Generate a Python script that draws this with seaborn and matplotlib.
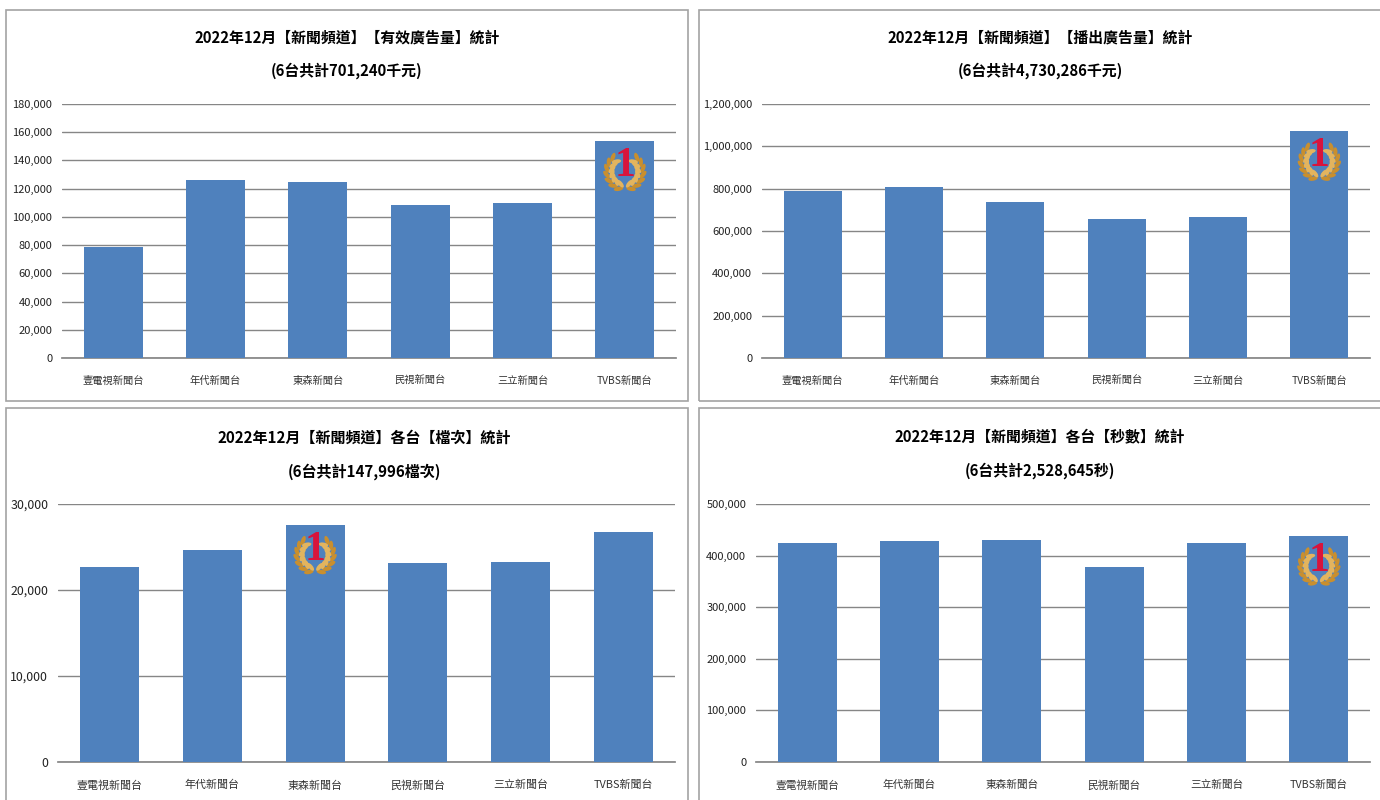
#!/usr/bin/env python3

import numpy as np
import pandas as pd
import seaborn as sns
import matplotlib.pyplot as plt
from matplotlib.patches import Ellipse, Rectangle
from matplotlib.ticker import FuncFormatter

W, H = 1380, 800

channels = ["壹電視新聞台", "年代新聞台", "東森新聞台", "民視新聞台", "三立新聞台", "TVBS新聞台"]

ad_revenue = [79000, 126000, 124800, 108500, 109500, 153440]
aired_revenue = [790000, 808000, 738000, 658000, 665000, 1071286]
spots = [22700, 24600, 27600, 23100, 23200, 26796]
seconds = [424500, 428500, 430500, 378000, 424500, 438000]

sns.set_theme(style="white")
plt.rcParams['font.family'] = ['Noto Sans CJK TC', 'DejaVu Sans']

BLUE = "#4F81BD"
GRID = "#868686"
FRAME = "#A3A3A3"


def add_frame(fig, x0, y0, x1, y1):
    fig.add_artist(Rectangle((x0 / W, 1 - y1 / H), (x1 - x0) / W, (y1 - y0) / H,
                             transform=fig.transFigure, fill=False,
                             edgecolor=FRAME, linewidth=1.2))


def add_emblem(fig, cx, cy):
    # laurel wreath plus red 1, cx/cy in pixels
    ax = fig.add_axes([(cx - 28) / W, 1 - (cy + 28) / H, 56 / W, 56 / H], zorder=10)
    ax.set_xlim(-28, 28)
    ax.set_ylim(28, -28)
    ax.axis('off')
    for side in (-1, 1):
        for deg in np.arange(-50, 90, 20):
            t = np.radians(deg)
            for r, tilt, c in ((18.5, 30, "#C98F2E"), (13, -30, "#E3B45E")):
                x = side * r * np.cos(t)
                y = r * np.sin(t) + 2
                angle = deg + 90 + tilt
                ax.add_patch(Ellipse((x, y), 9.5, 4.2, angle=side * angle if side > 0 else 180 - angle,
                                     facecolor=c, edgecolor="none"))
    ax.text(0, -3, "1", color="#D8143C", fontsize=30, fontweight='bold',
            family=['Liberation Serif', 'DejaVu Serif'], ha='center', va='center')


def draw_panel(fig, frame, box, values, ymax, step, title, sub, title_x, title_y, best,
               ysize=8.0, xsize=7.4, tsize=10.7):
    add_frame(fig, *frame)
    x0, y0, x1, y1 = box
    ax = fig.add_axes([x0 / W, 1 - y1 / H, (x1 - x0) / W, (y1 - y0) / H])
    df = pd.DataFrame({"channel": channels, "value": values})
    sns.barplot(data=df, x="channel", y="value", color=BLUE, saturation=1,
                width=0.575, linewidth=0, ax=ax, zorder=3)
    ax.set_ylim(0, ymax)
    ax.set_xlim(-0.5, 5.5)
    ax.set_yticks(np.arange(0, ymax + 1, step))
    ax.yaxis.set_major_formatter(FuncFormatter(lambda v, _: f"{int(v):,}"))
    ax.set_xlabel("")
    ax.set_ylabel("")
    ax.grid(axis='y', color=GRID, linewidth=1.0, zorder=0)
    ax.set_axisbelow(True)
    sns.despine(ax=ax, left=True)
    ax.spines['bottom'].set_color(GRID)
    ax.tick_params(axis='y', length=0, pad=7, labelsize=ysize, colors="#222222")
    ax.tick_params(axis='x', length=0, pad=13, labelsize=xsize, colors="#333333")

    fig.text(title_x / W, 1 - title_y / H, title, ha='center', va='center',
             fontsize=tsize, color="black", fontweight='bold')
    fig.text(title_x / W, 1 - (title_y + 34) / H, sub, ha='center', va='center',
             fontsize=tsize, color="black", fontweight='bold')

    # emblem sits just under the top of the leading bar
    bar_cx = x0 + (best + 0.5) / 6 * (x1 - x0)
    bar_top = y1 - values[best] / ymax * (y1 - y0)
    add_emblem(fig, bar_cx, bar_top + 28)


fig = plt.figure(figsize=(W / 100, H / 100), dpi=100, facecolor="white")

draw_panel(fig, (6, 10, 688, 401), (62, 104, 676, 358), ad_revenue, 180000, 20000,
           "2022年12月【新聞頻道】【有效廣告量】統計", "(6台共計701,240千元)", 347, 37, 5)
draw_panel(fig, (699, 10, 1390, 401), (762, 104, 1370, 358), aired_revenue, 1200000, 200000,
           "2022年12月【新聞頻道】【播出廣告量】統計", "(6台共計4,730,286千元)", 1040, 37, 5)
draw_panel(fig, (6, 408, 688, 810), (58, 504, 675, 762), spots, 30000, 10000,
           "2022年12月【新聞頻道】各台【檔次】統計", "(6台共計147,996檔次)", 364.5, 437.5, 2,
           ysize=8.9, xsize=7.9, tsize=10.85)
draw_panel(fig, (699, 408, 1390, 810), (756, 504, 1370, 762), seconds, 500000, 100000,
           "2022年12月【新聞頻道】各台【秒數】統計", "(6台共計2,528,645秒)", 1040, 437, 5,
           xsize=7.7)

fig.savefig("out.png", dpi=100)
